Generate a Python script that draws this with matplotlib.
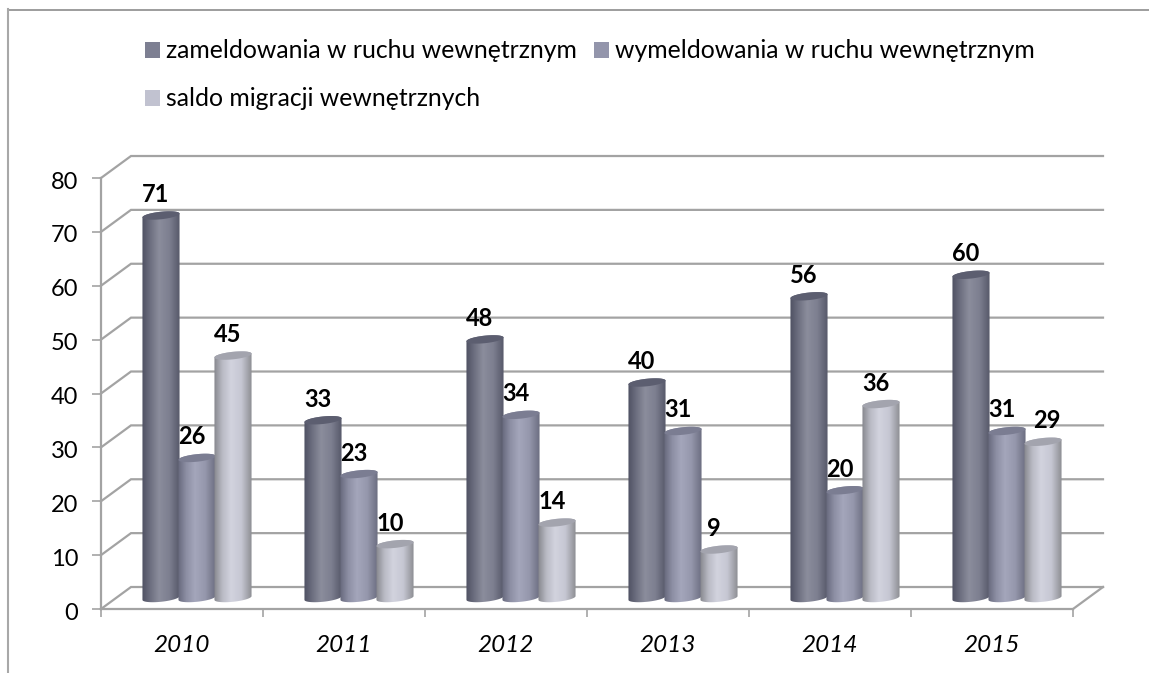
import numpy as np
import matplotlib
matplotlib.use("Agg")
import matplotlib.pyplot as plt
from matplotlib import patches
from matplotlib.colors import LinearSegmentedColormap
from matplotlib.lines import Line2D
from matplotlib.transforms import ScaledTranslation

plt.rcParams['font.family'] = ['Lato', 'DejaVu Sans']

years = ['2010', '2011', '2012', '2013', '2014', '2015']
series_names = ['zameldowania w ruchu wewnętrznym',
                'wymeldowania w ruchu wewnętrznym',
                'saldo migracji wewnętrznych']
zameldowania = [71, 33, 48, 40, 56, 60]
wymeldowania = [26, 23, 34, 31, 20, 31]
saldo = [45, 10, 14, 9, 36, 29]
y_ticks = [0, 10, 20, 30, 40, 50, 60, 70, 80]

W, H = 1149, 673
grid_color = '#a3a3a3'

# gradient across a cylinder: edge, light part, edge
gradients = [['#4e5062', '#6d6f80', '#8b8d9c', '#7d7f90', '#565869'],
             ['#66687c', '#8d8fa4', '#a4a6bb', '#9597ac', '#6b6d80'],
             ['#85868c', '#b9bac4', '#d2d3de', '#c6c7d3', '#8c8d92']]
top_colors = ['#5c5e70', '#7b7d92', '#a3a4ae']
legend_colors = ['#7d7f92', '#9395ab', '#c1c2d0']

fig = plt.figure(figsize=(W / 100, H / 100), dpi=100)
ax = fig.add_axes([101 / W, 1 - 609 / H, (1073 - 101) / W, (609 - 178) / H])

# depth of the fake 3d box, in data units
depth_x = 30 / 162
depth_y = 22 / 5.39

for v in y_ticks:
    ax.plot([0, depth_x, 6 + depth_x], [v, v + depth_y, v + depth_y],
            color=grid_color, lw=1.6, clip_on=False, zorder=1, solid_joinstyle='miter')
ax.plot([6, 6 + depth_x], [0, depth_y], color=grid_color, lw=1.6, clip_on=False, zorder=1)

bar_w = 36 / 162
ell_h = 0.7
ell_tilt = 0.35
t = np.linspace(0, 2 * np.pi, 121)

for s, values in enumerate([zameldowania, wymeldowania, saldo]):
    cmap = LinearSegmentedColormap.from_list('c%d' % s, list(zip([0, 0.22, 0.45, 0.72, 1], gradients[s])))
    for i, val in enumerate(values):
        cx = i + 0.5 + depth_x / 2 + (s - 1) * bar_w
        r = bar_w / 2 * 1.03
        cy0 = depth_y / 2
        cy1 = val + depth_y / 2
        xs = cx + r * np.cos(t)
        off = ell_h * np.sin(t) + ell_tilt * np.cos(t)

        # body = lower half of the base ellipse + upper half of the top one
        low = t >= np.pi
        high = t <= np.pi
        bx = np.concatenate([xs[low], xs[high]])
        by = np.concatenate([cy0 + off[low], cy1 + off[high]])
        body = patches.Polygon(np.column_stack([bx, by]), closed=True, fc='none', ec='none',
                               transform=ax.transData, zorder=3 + s)
        ax.add_patch(body)
        grad = np.linspace(0, 1, 256).reshape(1, -1)
        im = ax.imshow(grad, cmap=cmap, aspect='auto', interpolation='bilinear',
                       extent=[cx - r, cx + r, 0, cy1 + 2], zorder=3 + s)
        im.set_clip_path(body)

        ax.add_patch(patches.Polygon(np.column_stack([xs, cy1 + off]), closed=True,
                                     fc=top_colors[s], ec='none', zorder=3.5 + s))

        shift = 4 if val == 29 else -5
        ax.annotate(str(val), (cx, cy1), xytext=(shift * 0.72, 21 * 0.72), textcoords='offset points',
                    ha='center', va='center', fontsize=17, fontweight='bold', color='black',
                    annotation_clip=False, zorder=10)

ax.set_xlim(0, 6)
ax.set_ylim(0, 80)
ax.patch.set_alpha(0)

for sp in ['top', 'right']:
    ax.spines[sp].set_visible(False)
for sp in ['left', 'bottom']:
    ax.spines[sp].set_color(grid_color)
    ax.spines[sp].set_linewidth(1.6)

ax.set_yticks(y_ticks)
ax.set_xticks(range(7))
ax.set_xticklabels([])
ax.set_xticks(np.arange(6) + 0.5, labels=years, minor=True)
ax.tick_params(axis='y', length=6.5, width=1.2, color=grid_color, labelsize=17, pad=10)
ax.tick_params(axis='x', which='major', length=6, width=1.2, color=grid_color)
ax.tick_params(axis='x', which='minor', length=0, labelsize=17.5, pad=19)
for lab in ax.get_xticklabels(minor=True):
    lab.set_fontstyle('italic')
# calibri sits a little lower than lato
down = ScaledTranslation(0, -2 / 100, fig.dpi_scale_trans)
for lab in ax.get_yticklabels():
    lab.set_transform(lab.get_transform() + down)

# legend by hand, two rows like the original
legend_items = [(145, 50, 166), (594, 50, 615), (145, 98, 166)]
for k, (sx, yc, tx) in enumerate(legend_items):
    fig.patches.append(patches.Rectangle((sx / W, 1 - (yc + 7.5) / H), 15 / W, 15 / H,
                                         fc=legend_colors[k], ec='none', transform=fig.transFigure))
    fig.text(tx / W, 1 - yc / H, series_names[k], fontsize=17.8, va='center', ha='left', color='black')

# chart frame, only top and left show
fig.add_artist(Line2D([8 / W, 1], [1 - 9.5 / H, 1 - 9.5 / H], color='#8c8c8c', lw=1.2))
fig.add_artist(Line2D([8 / W, 8 / W], [1 - 9 / H, 0], color='#a8a8a8', lw=1.5))

fig.savefig('out.png', dpi=100)
